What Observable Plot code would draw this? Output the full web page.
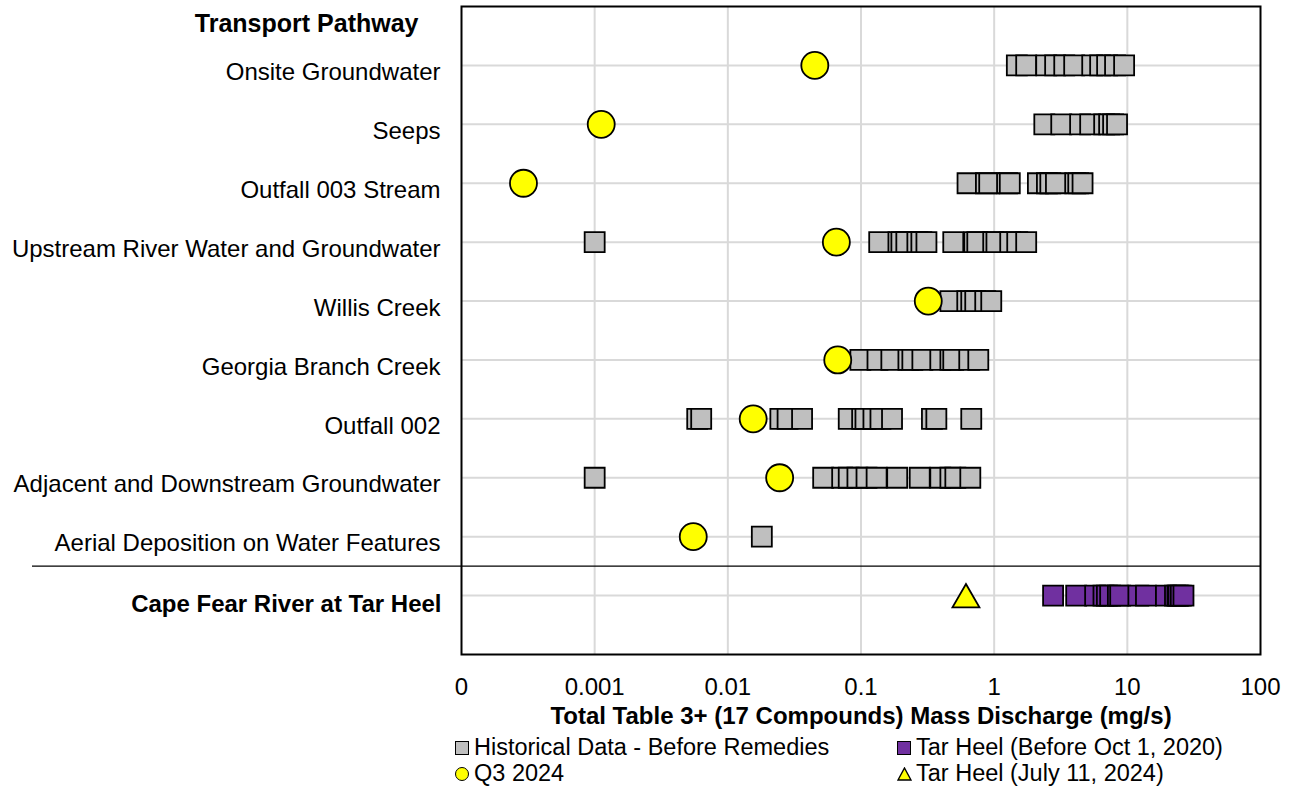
<!DOCTYPE html>
<html>
<head>
<meta charset="utf-8">
<script src="https://cdn.jsdelivr.net/npm/d3@7"></script>
<script src="https://cdn.jsdelivr.net/npm/@observablehq/plot@0.6"></script>
<style>
  body { margin: 0; background: white; font-family: "Liberation Sans", Arial, sans-serif; }
  #wrap { position: relative; width: 1298px; }
  #legend { position: relative; height: 60px; font-size: 23.5px; color: black; }
  .item { position: absolute; display: flex; align-items: center; white-space: nowrap; }
  .sw { display: inline-block; box-sizing: border-box; margin-right: 5px; }
</style>
</head>
<body>
<div id="wrap"></div>
<script>
// ---- Data ----
const categories = [
  "Onsite Groundwater",
  "Seeps",
  "Outfall 003 Stream",
  "Upstream River Water and Groundwater",
  "Willis Creek",
  "Georgia Branch Creek",
  "Outfall 002",
  "Adjacent and Downstream Groundwater",
  "Aerial Deposition on Water Features"
];
const riverCategory = "Cape Fear River at Tar Heel";
const headerLabel = "Transport Pathway";

// Historical Data - Before Remedies (mg/s)
const histOnsite = [1.48, 1.74, 2.46, 2.87, 3.36, 3.99, 5.45, 6.25, 7.05, 8.09, 9.46];
const histSeeps = [2.38, 3.19, 4.42, 5.26, 6.70, 7.30, 7.82, 8.37];
const histOutfall003 = [0.631, 0.867, 0.918, 1.25, 1.31, 2.13, 2.49, 2.64, 2.91, 4.06, 4.28, 4.61];
const histUpstream = [0.001, 0.137, 0.191, 0.201, 0.219, 0.265, 0.284, 0.310, 0.493, 0.709, 0.747, 0.984, 1.04, 1.32, 1.49, 1.74];
const histWillis = [0.469, 0.628, 0.673, 0.721, 0.857, 0.951];
const histGeorgia = [0.0989, 0.133, 0.169, 0.227, 0.243, 0.289, 0.394, 0.469, 0.493, 0.650, 0.760];
const histOutfall002 = [0.00589, 0.00631, 0.0248, 0.0281, 0.0361, 0.0809, 0.102, 0.108, 0.124, 0.140, 0.171, 0.341, 0.368, 0.673];
const histAdjacent = [0.001, 0.0520, 0.0722, 0.0809, 0.094, 0.110, 0.131, 0.187, 0.276, 0.394, 0.469, 0.511, 0.662];
const histAerial = [0.018];

// Q3 2024 (mg/s), one per category
const q3Values = [0.045, 0.00112, 0.000292, 0.0653, 0.320, 0.0669, 0.0155, 0.0245, 0.0055];

// Cape Fear River at Tar Heel
const tarHeelBefore2020 = [2.77, 4.13, 5.73, 6.62, 7.02, 7.43, 8.49, 8.84, 12.1, 13.8, 19.5, 22.8, 23.8, 24.2, 25.2, 26.4];
const tarHeelJuly2024 = [0.614];

// Axis
const tickValues = [0.0001, 0.001, 0.01, 0.1, 1, 10, 100];
const tickLabels = ["0", "0.001", "0.01", "0.1", "1", "10", "100"];
const gridValues = [0.001, 0.01, 0.1, 1, 10];
const xTitle = "Total Table 3+ (17 Compounds) Mass Discharge (mg/s)";

const legendLabels = ["Historical Data - Before Remedies", "Q3 2024", "Tar Heel (Before Oct 1, 2020)", "Tar Heel (July 11, 2024)"];

// ---- Build tables ----
const histSeries = [histOnsite, histSeeps, histOutfall003, histUpstream, histWillis, histGeorgia, histOutfall002, histAdjacent, histAerial];
const histRows = histSeries.flatMap((vals, i) => vals.map(v => ({row: i + 1, value: v})));
const q3Rows = q3Values.map((v, i) => ({row: i + 1, value: v}));
const riverRow = categories.length + 1; // 10
const purpleRows = tarHeelBefore2020.map(v => ({row: riverRow, value: v}));
const triRows = tarHeelJuly2024.map(v => ({row: riverRow, value: v}));
const labelRows = categories.map((c, i) => ({row: i + 1, name: c}));
const gridRows = d3.range(1, riverRow + 1);

const W = 1298, H = 730;
const sq = 20 / Math.sqrt(Math.PI);

const chart = Plot.plot({
  width: W,
  height: H,
  marginLeft: 461,
  marginRight: 38,
  marginTop: 6,
  marginBottom: 76,
  style: {fontFamily: "'Liberation Sans', Arial, sans-serif", fontSize: "24px", color: "black", background: "white", overflow: "visible"},
  x: {type: "log", domain: [0.0001, 100]},
  y: {domain: [riverRow + 1, 0], axis: null},
  marks: [
    Plot.ruleX(gridValues, {stroke: "#d9d9d9", strokeWidth: 2}),
    Plot.ruleY(gridRows, {stroke: "#d9d9d9", strokeWidth: 2}),
    Plot.ruleY([riverRow - 0.5], {stroke: "black", strokeWidth: 1.3, insetLeft: -429}),
    Plot.frame({stroke: "black", strokeWidth: 2}),
    Plot.axisX(tickValues, {
      tickSize: 0, tickPadding: 23, fontSize: 24,
      tickFormat: d => tickLabels[tickValues.indexOf(d)],
      label: null
    }),
    Plot.text([xTitle], {frameAnchor: "bottom", dy: 69, fontWeight: "bold", fontSize: 24, text: d => d}),
    Plot.text([headerLabel], {frameAnchor: "top-left", lineAnchor: "middle", dx: -43, dy: 17, textAnchor: "end", fontWeight: "bold", fontSize: 25, text: d => d}),
    Plot.text(labelRows, {frameAnchor: "left", y: "row", text: "name", textAnchor: "end", dx: -21, dy: 7, fontSize: 24}),
    Plot.text([riverCategory], {frameAnchor: "left", y: () => riverRow, text: d => d, textAnchor: "end", dx: -20, dy: 9, fontWeight: "bold", fontSize: 24}),
    Plot.dot(histRows, {x: "value", y: "row", symbol: "square", r: sq, fill: "#bfbfbf", stroke: "black", strokeWidth: 1.8}),
    Plot.dot(q3Rows, {x: "value", y: "row", symbol: "circle", r: 13.5, fill: "#ffff00", stroke: "black", strokeWidth: 1.8}),
    Plot.dot(purpleRows, {x: "value", y: "row", symbol: "square", r: sq, fill: "#7030a0", stroke: "black", strokeWidth: 1.8}),
    Plot.dot(triRows, {x: "value", y: "row", symbol: "triangle", r: 10, dy: 4, fill: "#ffff00", stroke: "black", strokeWidth: 1.8})
  ]
});

const wrap = document.getElementById("wrap");
wrap.appendChild(chart);

// ---- Legend ----
const legend = document.createElement("div");
legend.id = "legend";
const items = [
  {label: legendLabels[0], left: 455, top: 18, kind: "sq", color: "#bfbfbf"},
  {label: legendLabels[1], left: 455, top: 44, kind: "circ", color: "#ffff00"},
  {label: legendLabels[2], left: 897, top: 18, kind: "sq", color: "#7030a0"},
  {label: legendLabels[3], left: 897, top: 44, kind: "tri", color: "#ffff00"}
];
for (const it of items) {
  const d = document.createElement("div");
  d.className = "item";
  d.style.left = it.left + "px";
  d.style.top = (it.top - 14) + "px";
  let sw;
  if (it.kind === "tri") {
    sw = document.createElementNS("http://www.w3.org/2000/svg", "svg");
    sw.setAttribute("width", 15); sw.setAttribute("height", 14);
    sw.style.marginRight = "4px";
    const p = document.createElementNS("http://www.w3.org/2000/svg", "path");
    p.setAttribute("d", "M7.5,1 L14,13 L1,13 Z");
    p.setAttribute("fill", it.color); p.setAttribute("stroke", "black"); p.setAttribute("stroke-width", "1.4");
    sw.appendChild(p);
  } else {
    sw = document.createElement("span");
    sw.className = "sw";
    sw.style.width = "14px"; sw.style.height = "14px";
    sw.style.background = it.color; sw.style.border = "1.5px solid black";
    if (it.kind === "circ") sw.style.borderRadius = "50%";
  }
  d.appendChild(sw);
  const t = document.createElement("span");
  t.textContent = it.label;
  d.appendChild(t);
  legend.appendChild(d);
}
wrap.appendChild(legend);
</script>
</body>
</html>
